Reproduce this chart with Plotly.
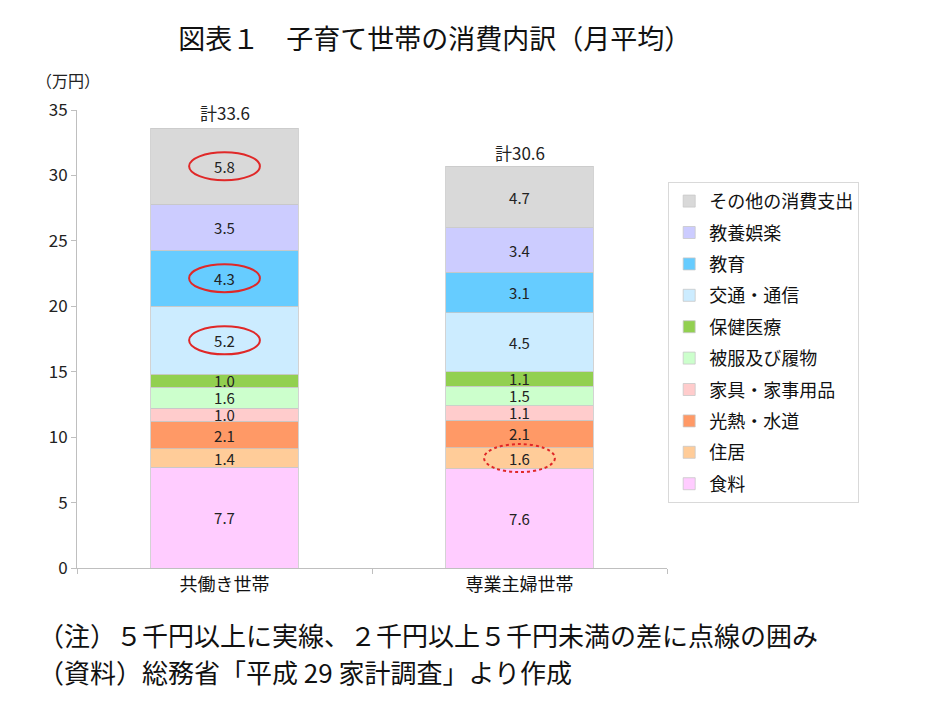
import plotly.graph_objects as go
import numpy as np

# data (万円, monthly average)
households = ["共働き世帯", "専業主婦世帯"]
items = ["食料", "住居", "光熱・水道", "家具・家事用品", "被服及び履物",
         "保健医療", "交通・通信", "教育", "教養娯楽", "その他の消費支出"]
dual_income = [7.7, 1.4, 2.1, 1.0, 1.6, 1.0, 5.2, 4.3, 3.5, 5.8]
single_income = [7.6, 1.6, 2.1, 1.1, 1.5, 1.1, 4.5, 3.1, 3.4, 4.7]
totals = [33.6, 30.6]
colors = ["#FFCCFF", "#FFCC99", "#FF9966", "#FFCCCC", "#CCFFCC",
          "#92D050", "#CCECFF", "#66CCFF", "#CCCCFF", "#D9D9D9"]

# items circled in the chart: (household index, item, line style)
highlights = [(0, "その他の消費支出", "solid"), (0, "教育", "solid"),
              (0, "交通・通信", "solid"), (1, "住居", "dot")]

FONT = "Noto Sans CJK JP"

fig = go.Figure()
for i, name in enumerate(items):
    vals = [dual_income[i], single_income[i]]
    fig.add_trace(go.Bar(
        x=households, y=vals, name=name,
        marker_color=colors[i],
        marker_line=dict(color="#C8C8C8", width=0.8),
        text=[f"{v:.1f}" for v in vals],
        textposition="inside", insidetextanchor="middle",
        textangle=0, constraintext="none",
        textfont=dict(size=15, color="#222222", family=FONT),
        width=0.5, hoverinfo="skip",
        legendgroup=name, legendrank=len(items) - i,  # legend top = top of stack
    ))

# totals above bars
for h, t in zip(households, totals):
    fig.add_annotation(x=h, y=t, text=f"計{t}", showarrow=False,
                       yanchor="bottom", yshift=1,
                       font=dict(size=17, color="#222222", family=FONT))

# ellipses round the highlighted values
series = [dual_income, single_income]
for hi, item, dash in highlights:
    k = items.index(item)
    base = float(np.sum(series[hi][:k]))
    mid = base + series[hi][k] / 2
    fig.add_shape(type="circle", xref="x", yref="y",
                  x0=hi - 0.12, x1=hi + 0.12, y0=mid - 1.07, y1=mid + 1.07,
                  line=dict(color="#E02828", width=2, dash=dash))

fig.add_annotation(xref="paper", yref="paper", x=-0.015, y=1.066,
                   text="（万円）", showarrow=False, xanchor="center",
                   yanchor="middle", font=dict(size=16, color="#222222", family=FONT))

# notes under the chart
fig.add_annotation(xref="paper", yref="paper", x=-0.07, y=-0.146,
                   text="（注）５千円以上に実線、２千円以上５千円未満の差に点線の囲み",
                   showarrow=False, xanchor="left", yanchor="middle",
                   font=dict(size=26, color="#111111", family=FONT))
fig.add_annotation(xref="paper", yref="paper", x=-0.07, y=-0.227,
                   text="（資料）総務省「平成 29 家計調査」より作成",
                   showarrow=False, xanchor="left", yanchor="middle",
                   font=dict(size=26, color="#111111", family=FONT))

fig.update_layout(
    width=934, height=720,
    barmode="stack",
    paper_bgcolor="white", plot_bgcolor="white",
    font=dict(family=FONT, color="#222222"),
    margin=dict(l=69, r=275, t=102, b=160),
    title=dict(text="図表１　子育て世帯の消費内訳（月平均）",
               x=0.457, xanchor="center", y=0.956, yanchor="middle",
               font=dict(size=27, color="#111111", family=FONT)),
    legend=dict(x=1.002, y=0.843, xanchor="left", yanchor="top",
                traceorder="grouped", tracegroupgap=5,
                bordercolor="#D9D9D9", borderwidth=1,
                font=dict(size=18, color="#111111", family=FONT),
                itemwidth=30),
    xaxis=dict(showline=True, linecolor="#BFBFBF", ticks="outside",
               tickson="boundaries", ticklen=5, tickcolor="#BFBFBF",
               tickfont=dict(size=18, color="#111111"), fixedrange=True),
    yaxis=dict(range=[0, 35], dtick=5, showgrid=False, showline=True,
               linecolor="#BFBFBF", ticks="outside", ticklen=5,
               tickcolor="#BFBFBF", zeroline=False,
               tickfont=dict(size=17, color="#222222"), fixedrange=True),
)

fig.write_html("out.html")
